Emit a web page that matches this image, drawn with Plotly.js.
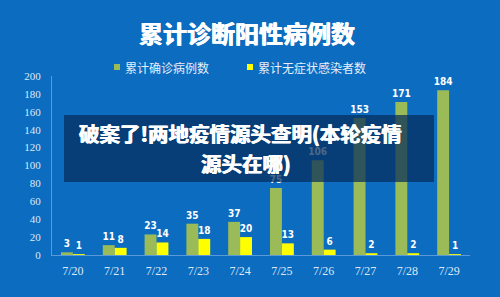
<!DOCTYPE html>
<html>
<head>
<meta charset="utf-8">
<script src="https://cdn.plot.ly/plotly-3.0.1.min.js"></script>
<style>
html,body{margin:0;padding:0;background:#0b6cc0;}
#chart{width:500px;height:297px;}
</style>
</head>
<body>
<div id="chart"></div>
<script>
const categories = ['7/20','7/21','7/22','7/23','7/24','7/25','7/26','7/27','7/28','7/29'];
const confirmed = [3, 11, 23, 35, 37, 75, 106, 153, 171, 184];
const asymptomatic = [1, 8, 14, 18, 20, 13, 6, 2, 2, 1];
const seriesNames = ['累计确诊病例数', '累计无症状感染者数'];
const seriesColors = ['#9bbb59', '#ffff00'];
const chartTitle = '累计诊断阳性病例数';
const overlayLine1 = '破案了!两地疫情源头查明(本轮疫情';
const overlayLine2 = '源头在哪)';

const L = 52, R = 30, T = 76, B = 42, W = 500, H = 297;
const pw = W - L - R, ph = H - T - B;
const px = x => (x - L) / pw;
const py = y => (H - B - y) / ph;

const labelFont = {family: 'DejaVu Sans Condensed, sans-serif', size: 10, color: '#ffffff', weight: 'bold'};
const serif = 'Liberation Serif, Times New Roman, serif';
const cjk = 'Noto Sans CJK SC, Noto Sans, sans-serif';
const heavy = '0.5px 0 0 #ffffff, -0.5px 0 0 #ffffff';

const traces = seriesNames.map((n, i) => ({
  type: 'bar', name: n, x: categories, y: i === 0 ? confirmed : asymptomatic,
  marker: {color: seriesColors[i]},
  text: (i === 0 ? confirmed : asymptomatic).map(String), textposition: 'outside',
  textfont: labelFont, cliponaxis: false, constraintext: 'none', textangle: 0
}));

const legendX = [117, 250];
const shapes = [];
const annotations = [];
seriesNames.forEach((n, i) => {
  shapes.push({type: 'rect', xref: 'paper', yref: 'paper', x0: px(legendX[i] - 3), x1: px(legendX[i] + 3),
               y0: py(70), y1: py(64), fillcolor: seriesColors[i], line: {width: 0}});
  annotations.push({text: n, xref: 'paper', yref: 'paper', x: px(legendX[i] + 6), y: py(67), xanchor: 'left', yanchor: 'middle',
                    showarrow: false, font: {family: cjk, size: 12, color: '#e6eef8'}});
});
shapes.push({type: 'rect', xref: 'paper', yref: 'paper', x0: px(64), x1: px(434), y0: py(182), y1: py(115),
             fillcolor: 'rgba(6,45,90,0.72)', line: {width: 0}, layer: 'above'});
annotations.push(
  {text: overlayLine1, xref: 'paper', yref: 'paper', x: px(240), y: py(133), xanchor: 'center', yanchor: 'middle', showarrow: false,
   font: {family: cjk, size: 20.5, color: '#ffffff', weight: 'bold', shadow: heavy}},
  {text: overlayLine2, xref: 'paper', yref: 'paper', x: px(246), y: py(163), xanchor: 'center', yanchor: 'middle', showarrow: false,
   font: {family: cjk, size: 20.5, color: '#ffffff', weight: 'bold', shadow: heavy}}
);

const layout = {
  width: W, height: H,
  margin: {l: L, r: R, t: T, b: B},
  paper_bgcolor: '#0b6cc0', plot_bgcolor: '#0b6cc0',
  barmode: 'group', bargap: 0.43, bargroupgap: 0,
  showlegend: false,
  title: {text: chartTitle, x: 247 / W, xanchor: 'center', y: 1 - 35 / H, yanchor: 'middle',
          font: {family: cjk, size: 24, color: '#ffffff', weight: 'bold', shadow: heavy}},
  xaxis: {type: 'category', showgrid: false, zeroline: false, showline: true, linecolor: '#5a9ad8', linewidth: 1,
          ticks: 'outside', ticklen: 5, tickcolor: 'rgba(0,0,0,0)',
          tickfont: {family: serif, size: 12, color: '#dfe9f6'}},
  yaxis: {range: [0, 200], dtick: 20, showgrid: false, zeroline: false, showline: true, linecolor: '#5a9ad8', linewidth: 1,
          ticks: 'outside', ticklen: 8, tickcolor: 'rgba(0,0,0,0)',
          tickfont: {family: serif, size: 11, color: '#dfe9f6'}},
  shapes: shapes,
  annotations: annotations
};

Plotly.newPlot('chart', traces, layout, {displayModeBar: false, staticPlot: true});
</script>
</body>
</html>
